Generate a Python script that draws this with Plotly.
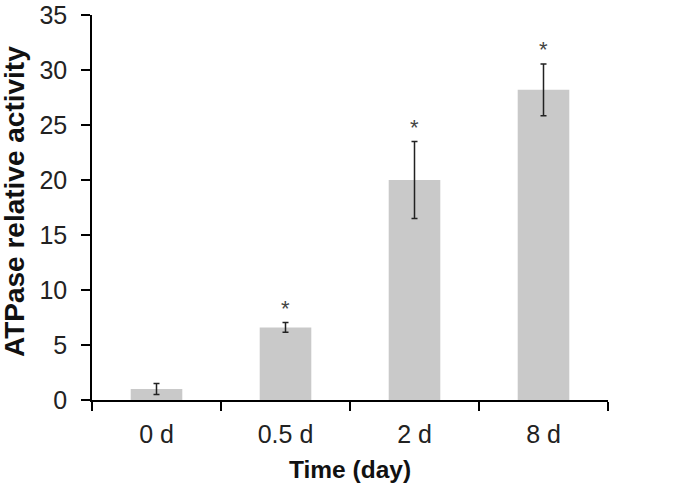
import plotly.graph_objects as go

categories = ["0 d", "0.5 d", "2 d", "8 d"]
values = [1.0, 6.6, 20.0, 28.2]
errors = [0.5, 0.45, 3.5, 2.35]
significance = ["", "*", "*", "*"]
y_ticks = [0, 5, 10, 15, 20, 25, 30, 35]

FONT = "Liberation Sans, Arial, sans-serif"

fig = go.Figure()
fig.add_trace(go.Bar(
    x=categories, y=values, width=0.4,
    marker=dict(color="#c9c9c9", line=dict(width=0)),
    error_y=dict(type="data", array=errors, visible=True,
                 color="#222222", thickness=1.5, width=3),
    showlegend=False,
))

for c, v, e, s in zip(categories, values, errors, significance):
    if s:
        fig.add_annotation(x=c, y=v + e, text=s, showarrow=False,
                           yanchor="middle", yshift=14,
                           font=dict(family=FONT, size=22, color="#444444"))

fig.update_layout(
    width=675, height=489,
    margin=dict(l=92, r=67, t=15, b=89, autoexpand=False),
    plot_bgcolor="white", paper_bgcolor="white",
    font=dict(family=FONT, size=25, color="#111111"),
)
fig.update_xaxes(
    type="category", range=[-0.5, 3.5], automargin=False,
    showline=True, linecolor="black", linewidth=1.5,
    ticks="outside", ticklen=9, tickwidth=1.5, tickcolor="black",
    tickson="boundaries", ticklabelstandoff=11, ticklabeloverflow="allow",
    tickfont=dict(size=25, family=FONT, color="#222222"),
    showgrid=False, zeroline=False,
)
fig.update_yaxes(
    range=[0, 35], tickvals=y_ticks, automargin=False,
    showline=True, linecolor="black", linewidth=1.5,
    ticks="outside", ticklen=9, tickwidth=1.5, tickcolor="black",
    ticklabelstandoff=9, ticklabeloverflow="allow",
    showgrid=False, zeroline=False,
    tickfont=dict(size=25, family=FONT, color="#222222"),
)

fig.add_annotation(xref="paper", yref="paper", x=(350 - 92) / 516, y=-(469 - 400) / 385,
                   text="<b>Time (day)</b>", showarrow=False, xanchor="center", yanchor="middle",
                   font=dict(family=FONT, size=24.5, color="#111111"))
fig.add_annotation(xref="paper", yref="paper", x=(14 - 92) / 516, y=(400 - 202) / 385,
                   text="<b>ATPase relative activity</b>", showarrow=False, textangle=-90,
                   xanchor="center", yanchor="middle",
                   font=dict(family=FONT, size=28, color="#111111"))

fig.write_html("out.html", config={"displayModeBar": False},
               post_script="document.body.style.margin='0';document.body.style.padding='0';")
